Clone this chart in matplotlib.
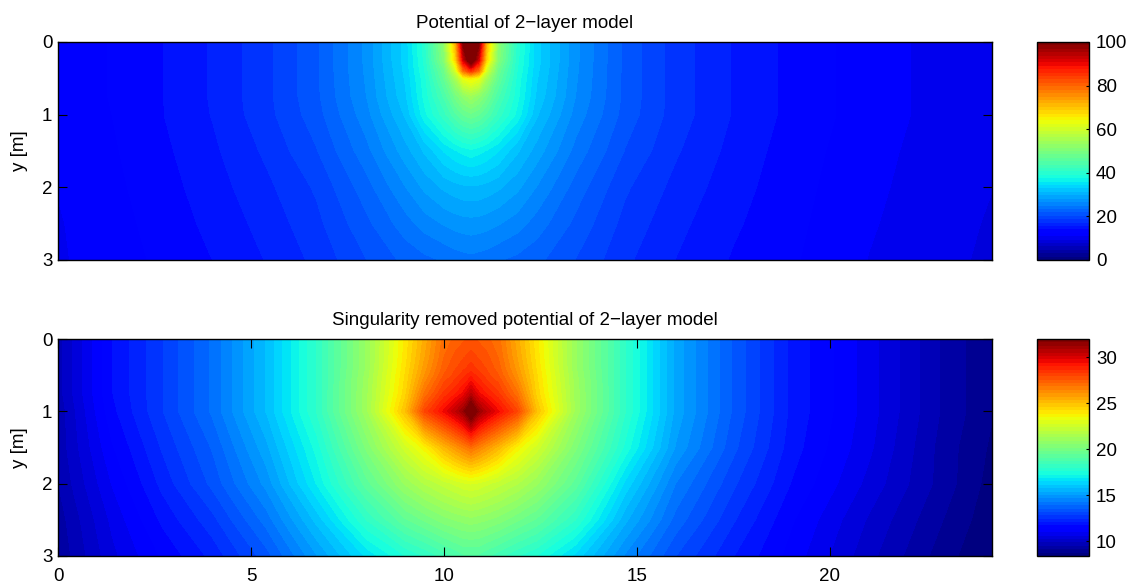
import numpy as np
import matplotlib
matplotlib.use("Agg")
import matplotlib.pyplot as plt
from matplotlib.cm import ScalarMappable
from matplotlib.colors import Normalize

plt.rcParams['font.family'] = ['Liberation Sans', 'DejaVu Sans']

x_nodes = [0, 1.4, 2.7, 4, 5.4, 6.7, 8, 9, 9.5, 10, 10.3, 10.5, 10.7, 10.9, 11.1, 11.4, 11.9, 12.4, 13.4, 14.7, 16, 17.5, 19, 21, 23, 24.2]
y_nodes = [0, 0.25, 0.4, 0.5, 0.75, 1, 1.5, 2, 2.5, 3]

potential = [
    [11.3, 12.6, 14, 15.8, 18.3, 21.6, 27, 33.5, 40, 52, 72, 100, 150, 100, 72, 52, 40, 33.5, 27, 21.4, 18, 15.5, 13.6, 11.7, 10.3, 9.7],
    [11.3, 12.6, 14, 15.8, 18.3, 21.6, 27, 33.5, 39.5, 51, 68, 92, 105, 92, 68, 51, 39.5, 33.5, 27, 21.4, 18, 15.5, 13.6, 11.7, 10.3, 9.7],
    [11.3, 12.6, 14, 15.8, 18.3, 21.6, 26.9, 33.2, 39, 48, 60, 78, 85, 78, 60, 48, 39, 33.2, 26.9, 21.4, 18, 15.5, 13.6, 11.7, 10.3, 9.7],
    [11.3, 12.6, 14, 15.8, 18.3, 21.6, 26.8, 33, 38.5, 47, 55, 63, 65, 63, 55, 47, 38.5, 33, 26.8, 21.4, 18, 15.5, 13.6, 11.7, 10.3, 9.7],
    [11.3, 12.6, 14, 15.8, 18.3, 21.5, 26.6, 32.5, 38, 44, 49, 52, 54, 52, 49, 44, 38, 32.5, 26.6, 21.4, 18, 15.5, 13.6, 11.7, 10.3, 9.7],
    [11.2, 12.5, 14, 15.7, 18.2, 21.2, 26, 31.5, 37, 41.5, 45, 47, 48, 47, 45, 41.5, 37, 31.5, 26, 21.2, 18, 15.5, 13.6, 11.7, 10.3, 9.6],
    [11.1, 12.3, 13.7, 15.3, 17.5, 20.2, 24.5, 29, 31.5, 34.5, 35.8, 36.5, 37, 36.5, 35.8, 34.5, 31.5, 29, 24.5, 20.2, 17.4, 15.1, 13.3, 11.5, 10.1, 9.5],
    [11, 12.1, 13.4, 14.9, 16.8, 19, 22.8, 26.5, 28.5, 30, 30.6, 30.9, 31, 30.9, 30.6, 30, 28.5, 26.5, 22.8, 19, 16.7, 14.7, 13.1, 11.3, 10, 9.4],
    [10.8, 11.9, 13.1, 14.5, 16.2, 18.3, 21.5, 24.3, 25.7, 26.7, 27.2, 27.4, 27.5, 27.4, 27.2, 26.7, 25.7, 24.3, 21.5, 18.2, 16.1, 14.3, 12.9, 11.1, 9.9, 9.2],
    [10.7, 11.8, 12.8, 14.06, 15.7, 17.6, 20.3, 22.3, 23, 23.6, 24.1, 24.3, 24.5, 24.3, 24.1, 23.6, 23, 22.3, 20.3, 17.5, 15.6, 13.9, 12.7, 10.9, 9.8, 9],
]

removed = [
    [9.7, 11.7, 12.8, 14, 15.8, 18, 21, 24, 25.5, 27, 27.3, 27.5, 27.7, 27.5, 27.3, 27, 25.5, 24, 21, 18, 15.3, 13.5, 12, 10.8, 9.4, 8.8],
    [9.7, 11.7, 12.8, 14, 15.8, 18, 21, 24.1, 25.7, 27.2, 27.7, 27.9, 28.1, 27.9, 27.7, 27.2, 25.7, 24.1, 21, 18, 15.3, 13.5, 12, 10.8, 9.4, 8.8],
    [9.7, 11.7, 12.8, 14, 15.8, 18, 21, 24.2, 25.9, 27.4, 27.9, 28.2, 28.5, 28.2, 27.9, 27.4, 25.9, 24.2, 21, 18, 15.3, 13.5, 12, 10.8, 9.4, 8.8],
    [9.7, 11.7, 12.8, 14, 15.8, 18, 21.1, 24.3, 26.1, 27.6, 28.1, 28.5, 28.9, 28.5, 28.1, 27.6, 26.1, 24.3, 21.1, 18, 15.3, 13.5, 12, 10.8, 9.4, 8.8],
    [9.7, 11.7, 12.8, 14, 15.8, 18, 21.2, 24.5, 26.9, 28.4, 29, 29.5, 30.5, 29.5, 29, 28.4, 26.9, 24.5, 21.2, 18, 15.3, 13.5, 12, 10.8, 9.4, 8.8],
    [9.6, 11.6, 12.8, 14, 15.8, 18, 21.2, 25, 28, 29.5, 30.5, 31.3, 33, 31.3, 30.5, 29.5, 28, 25, 21.2, 18, 15.3, 13.5, 12, 10.8, 9.4, 8.8],
    [9.6, 11.3, 12.5, 13.6, 15.3, 17.4, 20.3, 22.6, 23.7, 25.2, 26, 26.5, 27, 26.5, 26, 25.2, 23.7, 22.6, 20.3, 17.5, 15, 13.3, 11.9, 10.7, 9.3, 8.7],
    [9.5, 11, 12.2, 13.3, 14.8, 16.9, 19.3, 21, 21.7, 22.2, 22.5, 22.7, 22.8, 22.7, 22.5, 22.2, 21.7, 21, 19.3, 16.4, 14.3, 12.9, 11.7, 10.5, 9.3, 8.6],
    [9.3, 10.7, 11.8, 12.7, 14.1, 15.9, 18, 19.4, 19.9, 20.4, 20.6, 20.7, 20.8, 20.7, 20.6, 20.4, 19.9, 19.4, 18, 15.5, 13.8, 12.5, 11.4, 10.2, 9.1, 8.5],
    [9.2, 10.5, 11.4, 12.2, 13.4, 15, 16.6, 17.6, 18, 18.5, 18.8, 19, 19, 19, 18.8, 18.5, 18, 17.6, 16.4, 14.6, 13.2, 12.1, 11.2, 10, 8.9, 8.4],
]

titles = ["Potential of 2\u2212layer model", "Singularity removed potential of 2\u2212layer model"]
x_ticks = [0, 5, 10, 15, 20]
y_ticks = [0, 1, 2, 3]
top_cbar_ticks = [0, 20, 40, 60, 80, 100]
bot_cbar_ticks = [10, 15, 20, 25, 30]
top_range = (0, 100)
bot_range = (8.4, 32)

W, H = 1136, 583
FS = 13.5
fig = plt.figure(figsize=(W / 100, H / 100), dpi=100)
cmap = plt.get_cmap('jet', 64).copy()
cmap.set_over(cmap(63))
cmap.set_under(cmap(0))


def box(l, t, r, b):
    return [l / W, 1 - b / H, (r - l) / W, (b - t) / H]


def panel(rect, crect, z, rng, title, cticks, xlabels):
    ax = fig.add_axes(box(*rect))
    levels = np.linspace(rng[0], rng[1], 65)
    ax.contourf(x_nodes, y_nodes, np.array(z), levels=levels, cmap=cmap, extend='both',
                norm=Normalize(*rng), antialiased=False)
    ax.set_xlim(0, 24.2)
    ax.set_ylim(3, 0)
    ax.set_yticks(y_ticks)
    if xlabels:
        ax.set_xticks(x_ticks)
    else:
        ax.set_xticks([])
    ax.set_ylabel("y [m]", fontsize=FS)
    ax.yaxis.set_label_coords(-0.032, 0.5)
    ax.set_title(title, fontsize=FS, pad=10)
    ax.tick_params(direction='in', length=6.5, width=0.8, top=True, right=True, labelsize=FS)
    ax.tick_params(axis='y', pad=4)
    ax.tick_params(axis='x', pad=8.5)
    for s in ax.spines.values():
        s.set_linewidth(1.0)
    cax = fig.add_axes(box(*crect))
    cb = fig.colorbar(ScalarMappable(Normalize(*rng), cmap), cax=cax)
    cb.set_ticks(cticks)
    cb.ax.tick_params(direction='in', length=2.5, width=0.8, labelsize=FS, pad=5)
    cb.outline.set_linewidth(1.0)
    return ax


panel((58, 42, 992, 260), (1037, 42, 1089, 260), potential, top_range, titles[0], top_cbar_ticks, False)
panel((58, 339, 992, 556), (1037, 339, 1089, 556), removed, bot_range, titles[1], bot_cbar_ticks, True)

fig.savefig("out.png", dpi=100)
